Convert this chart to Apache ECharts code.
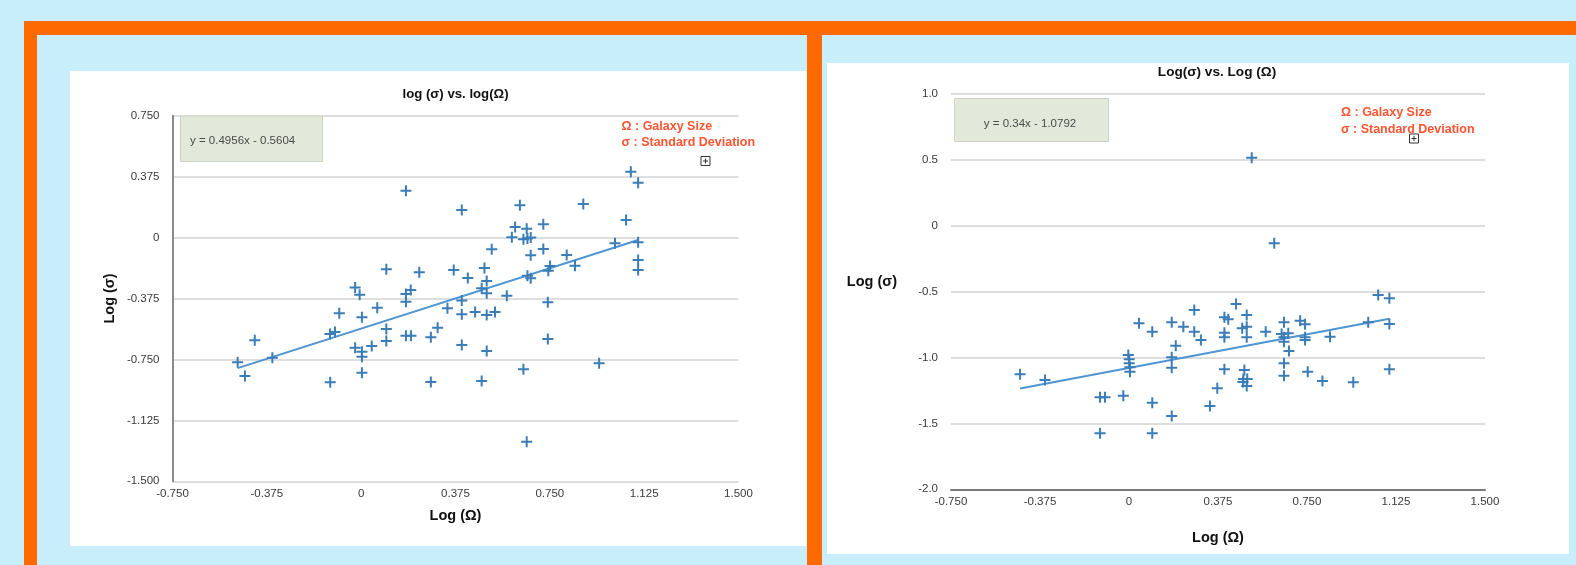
<!DOCTYPE html>
<html>
<head>
<meta charset="utf-8">
<script src="https://cdn.jsdelivr.net/npm/echarts@6/dist/echarts.min.js"></script>
<style>
  html, body { margin: 0; padding: 0; width: 1576px; height: 565px; overflow: hidden; background: #C8EEFC; }
  .blk { position: absolute; }
  #chart { position: absolute; left: 0; top: 0; width: 1576px; height: 565px; }
</style>
</head>
<body>
<!-- page frame: orange border, blue panels, white chart cards -->
<div class="blk" style="left:24px;top:21px;width:1552px;height:544px;background:#FF6A00"></div>
<div class="blk" style="left:37px;top:35px;width:770px;height:530px;background:#C8EEFC"></div>
<div class="blk" style="left:822px;top:35px;width:754px;height:530px;background:#C8EEFC"></div>
<div class="blk" style="left:70px;top:71px;width:737px;height:475px;background:#FFFFFF"></div>
<div class="blk" style="left:827px;top:63px;width:742px;height:491px;background:#FFFFFF"></div>
<div id="chart"></div>
<script>
// ---- axis ticks ----
const xTickValues = [-0.75, -0.375, 0, 0.375, 0.75, 1.125, 1.5];
const xTickLabels = ['-0.750', '-0.375', '0', '0.375', '0.750', '1.125', '1.500'];
const leftYTickValues = [-1.5, -1.125, -0.75, -0.375, 0, 0.375, 0.75];
const leftYTickLabels = ['-1.500', '-1.125', '-0.750', '-0.375', '0', '0.375', '0.750'];
const rightYTickValues = [-2, -1.5, -1, -0.5, 0, 0.5, 1];
const rightYTickLabels = ['-2.0', '-1.5', '-1.0', '-0.5', '0', '0.5', '1.0'];

// ---- left panel: log(sigma) vs log(Omega) ----
const leftLogOmega = [
  0.178, -0.491, -0.462, -0.423, -0.353, -0.123, -0.124, -0.104, -0.087, -0.024,
  -0.006, -0.024, 0.003, 0.003, 0.003, 0.003, 0.042, 0.064, 0.100, 0.100,
  0.100, 0.178, 0.197, 0.178, 0.178, 0.198, 0.231, 0.277, 0.304, 0.277,
  0.343, 0.368, 0.400, 0.424, 0.400, 0.400, 0.400, 0.453, 0.490, 0.499,
  0.479, 0.499, 0.499, 0.532, 0.499, 0.479, 0.519, 0.579, 0.631, 0.612,
  0.599, 0.658, 0.645, 0.661, 0.674, 0.724, 0.674, 0.724, 0.661, 0.674,
  0.645, 0.658, 0.742, 0.742, 0.751, 0.744, 0.817, 0.850, 0.883, 0.946,
  1.009, 1.053, 1.072, 1.101, 1.101, 1.101, 1.101
];
const leftLogSigma = [
  0.288, -0.768, -0.852, -0.632, -0.739, -0.891, -0.593, -0.581, -0.466, -0.308,
  -0.352, -0.678, -0.702, -0.733, -0.832, -0.491, -0.667, -0.432, -0.195, -0.563,
  -0.636, -0.347, -0.323, -0.395, -0.604, -0.604, -0.214, -0.614, -0.555, -0.889,
  -0.435, -0.200, 0.170, -0.249, -0.388, -0.472, -0.661, -0.458, -0.187, -0.267,
  -0.312, -0.343, -0.476, -0.458, -0.698, -0.883, -0.072, -0.358, 0.199, 0.065,
  0.002, 0.055, -0.011, -0.005, 0.001, 0.082, -0.109, -0.070, -0.235, -0.251,
  -0.811, -1.256, -0.398, -0.624, -0.175, -0.204, -0.107, -0.173, 0.207, -0.774,
  -0.035, 0.108, 0.405, 0.338, -0.029, -0.138, -0.200
];
const leftFit = [0.4956, -0.5604];   // slope, intercept

// ---- right panel: Log(sigma) vs Log(Omega) ----
const rightLogOmega = [
  -0.459, -0.354, -0.122, -0.101, -0.122, -0.024, -0.003, 0.001, 0.001, 0.004,
  0.004, 0.042, 0.098, 0.098, 0.098, 0.180, 0.197, 0.180, 0.180, 0.180,
  0.229, 0.275, 0.275, 0.303, 0.341, 0.372, 0.402, 0.418, 0.402, 0.402,
  0.402, 0.451, 0.496, 0.477, 0.496, 0.496, 0.486, 0.482, 0.498, 0.496,
  0.480, 0.576, 0.653, 0.643, 0.671, 0.653, 0.653, 0.674, 0.653, 0.653,
  0.721, 0.742, 0.742, 0.742, 0.753, 0.815, 0.847, 0.945, 1.008, 1.050,
  1.097, 1.097, 1.097, 0.517, 0.612
];
const rightLogSigma = [
  -1.128, -1.171, -1.302, -1.302, -1.575, -1.290, -0.981, -1.014, -1.045, -1.075,
  -1.108, -0.741, -0.805, -1.343, -1.575, -0.734, -0.911, -0.999, -1.078, -1.444,
  -0.767, -0.640, -0.805, -0.868, -1.368, -1.234, -0.696, -0.711, -0.812, -0.847,
  -1.090, -0.595, -0.678, -0.779, -0.767, -0.847, -1.095, -1.163, -1.163, -1.217,
  -1.187, -0.805, -0.734, -0.822, -0.817, -0.847, -0.881, -0.951, -1.045, -1.138,
  -0.721, -0.749, -0.847, -0.868, -1.108, -1.179, -0.843, -1.189, -0.734, -0.527,
  -0.552, -0.747, -1.090, 0.515, -0.134
];
const rightFit = [0.34, -1.0792];

const legendLines = ['\u03A9 : Galaxy Size', '\u03C3 : Standard Deviation'];

// ---- helpers ----
const FONT = '"Liberation Sans", Arial, Helvetica, sans-serif';
const plusSymbol = 'path://M4.5,0H6.5V4.5H11V6.5H6.5V11H4.5V6.5H0V4.5H4.5Z';
const pointColor = '#3B7DB6';
const lineColor = '#4E95D3';

function pairs(xs, ys) { return xs.map((x, i) => [x, ys[i]]); }
function fitLine(xs, fit) {
  const lo = Math.min(...xs), hi = Math.max(...xs);
  return [[lo, fit[0] * lo + fit[1]], [hi, fit[0] * hi + fit[1]]];
}
function eqText(fit) {
  const sign = fit[1] < 0 ? ' - ' : ' + ';
  return 'y = ' + fit[0] + 'x' + sign + Math.abs(fit[1]);
}
function labeler(values, labels) {
  return v => {
    for (let i = 0; i < values.length; i++) if (Math.abs(values[i] - v) < 1e-9) return labels[i];
    return '';
  };
}
const tickText = { color: '#3a3a3a', fontSize: 11.5, fontFamily: FONT };
const nameText = { color: '#111', fontSize: 14.5, fontWeight: 'bold', fontFamily: FONT };
const gridLine = { show: true, lineStyle: { color: '#D3D3D3', width: 1.5 } };

function plusBox(cx, cy) {
  return {
    type: 'group', x: cx - 4.5, y: cy - 4.5, children: [
      { type: 'rect', shape: { x: 0, y: 0, width: 9, height: 9 }, style: { fill: '#fff', stroke: '#333', lineWidth: 1 } },
      { type: 'line', shape: { x1: 4.5, y1: 2, x2: 4.5, y2: 7 }, style: { stroke: '#333', lineWidth: 1 } },
      { type: 'line', shape: { x1: 2, y1: 4.5, x2: 7, y2: 4.5 }, style: { stroke: '#333', lineWidth: 1 } }
    ]
  };
}

const chart = echarts.init(document.getElementById('chart'), null, { renderer: 'canvas' });

const option = {
  backgroundColor: 'transparent',
  animation: false,
  title: [
    { text: 'log (\u03C3) vs. log(\u03A9)', left: 455.5, top: 88, textAlign: 'center', padding: 0,
      textStyle: { fontSize: 13.2, fontWeight: 'bold', color: '#111', fontFamily: FONT } },
    { text: 'Log(\u03C3) vs. Log (\u03A9)', left: 1217, top: 65, textAlign: 'center', padding: 0,
      textStyle: { fontSize: 13.6, fontWeight: 'bold', color: '#111', fontFamily: FONT } }
  ],
  grid: [
    { left: 172.5, top: 115.7, width: 566, height: 365.6, containLabel: false },
    { left: 951, top: 93.7, width: 534, height: 395.6, containLabel: false }
  ],
  xAxis: [
    { type: 'value', gridIndex: 0, min: -0.75, max: 1.5, interval: 0.375,
      name: 'Log (\u03A9)', nameLocation: 'middle', nameGap: 27.5, nameTextStyle: nameText,
      axisLine: { show: false }, axisTick: { show: false }, splitLine: { show: false },
      axisLabel: Object.assign({ margin: 6.5, formatter: labeler(xTickValues, xTickLabels) }, tickText) },
    { type: 'value', gridIndex: 1, min: -0.75, max: 1.5, interval: 0.375,
      name: 'Log (\u03A9)', nameLocation: 'middle', nameGap: 41, nameTextStyle: nameText,
      axisLine: { show: true, onZero: false, lineStyle: { color: '#7a7a7a', width: 2 } },
      axisTick: { show: false }, splitLine: { show: false },
      axisLabel: Object.assign({ margin: 6.5, formatter: labeler(xTickValues, xTickLabels) }, tickText) }
  ],
  yAxis: [
    { type: 'value', gridIndex: 0, min: -1.5, max: 0.75, interval: 0.375,
      name: 'Log (\u03C3)', nameLocation: 'middle', nameGap: 55, nameTextStyle: nameText,
      axisLine: { show: true, onZero: false, lineStyle: { color: '#8a8a8a', width: 2 } },
      axisTick: { show: false }, splitLine: gridLine,
      axisLabel: Object.assign({ margin: 13, formatter: labeler(leftYTickValues, leftYTickLabels) }, tickText) },
    { type: 'value', gridIndex: 1, min: -2, max: 1, interval: 0.5,
      axisLine: { show: false }, axisTick: { show: false }, splitLine: gridLine,
      axisLabel: Object.assign({ margin: 13, formatter: labeler(rightYTickValues, rightYTickLabels) }, tickText) }
  ],
  series: [
    { type: 'line', xAxisIndex: 0, yAxisIndex: 0, data: fitLine(leftLogOmega, leftFit),
      showSymbol: false, silent: true, z: 2, lineStyle: { color: lineColor, width: 2 } },
    { type: 'scatter', xAxisIndex: 0, yAxisIndex: 0, data: pairs(leftLogOmega, leftLogSigma),
      symbol: plusSymbol, symbolSize: 11, z: 3, itemStyle: { color: pointColor, opacity: 1 } },
    { type: 'line', xAxisIndex: 1, yAxisIndex: 1, data: fitLine(rightLogOmega, rightFit),
      showSymbol: false, silent: true, z: 2, lineStyle: { color: lineColor, width: 2 } },
    { type: 'scatter', xAxisIndex: 1, yAxisIndex: 1, data: pairs(rightLogOmega, rightLogSigma),
      symbol: plusSymbol, symbolSize: 11, z: 3, itemStyle: { color: pointColor, opacity: 1 } }
  ],
  graphic: [
    // trendline equation boxes
    { type: 'rect', shape: { x: 180.5, y: 116, width: 142, height: 45.5 },
      style: { fill: '#E2E9DA', stroke: '#CDD5C4', lineWidth: 1 }, z: 10 },
    { type: 'text', x: 190, y: 140.5, z: 11,
      style: { text: eqText(leftFit), font: '11.5px ' + FONT, fill: '#4a4a4a', textAlign: 'left', textVerticalAlign: 'middle' } },
    { type: 'rect', shape: { x: 954.5, y: 98.5, width: 154, height: 43 },
      style: { fill: '#E2E9DA', stroke: '#CDD5C4', lineWidth: 1 }, z: 10 },
    { type: 'text', x: 1030, y: 124, z: 11,
      style: { text: eqText(rightFit), font: '11.5px ' + FONT, fill: '#4a4a4a', textAlign: 'center', textVerticalAlign: 'middle' } },
    // symbol notes
    { type: 'text', x: 621.5, y: 126.5, z: 11,
      style: { text: legendLines[0], font: 'bold 12.5px ' + FONT, fill: '#FF5533', textAlign: 'left', textVerticalAlign: 'middle' } },
    { type: 'text', x: 621.5, y: 142.5, z: 11,
      style: { text: legendLines[1], font: 'bold 12.5px ' + FONT, fill: '#FF5533', textAlign: 'left', textVerticalAlign: 'middle' } },
    { type: 'text', x: 1341, y: 112.5, z: 11,
      style: { text: legendLines[0], font: 'bold 12.5px ' + FONT, fill: '#FF5533', textAlign: 'left', textVerticalAlign: 'middle' } },
    { type: 'text', x: 1341, y: 129.5, z: 11,
      style: { text: legendLines[1], font: 'bold 12.5px ' + FONT, fill: '#FF5533', textAlign: 'left', textVerticalAlign: 'middle' } },
    Object.assign(plusBox(705.5, 161), { z: 12 }),
    Object.assign(plusBox(1414, 138.5), { z: 12 }),
    // right panel vertical axis title, set horizontally
    { type: 'text', x: 897, y: 281.5, z: 11,
      style: { text: 'Log (\u03C3)', font: 'bold 14.5px ' + FONT, fill: '#111', textAlign: 'right', textVerticalAlign: 'middle' } }
  ]
};
chart.setOption(option);
</script>
</body>
</html>
